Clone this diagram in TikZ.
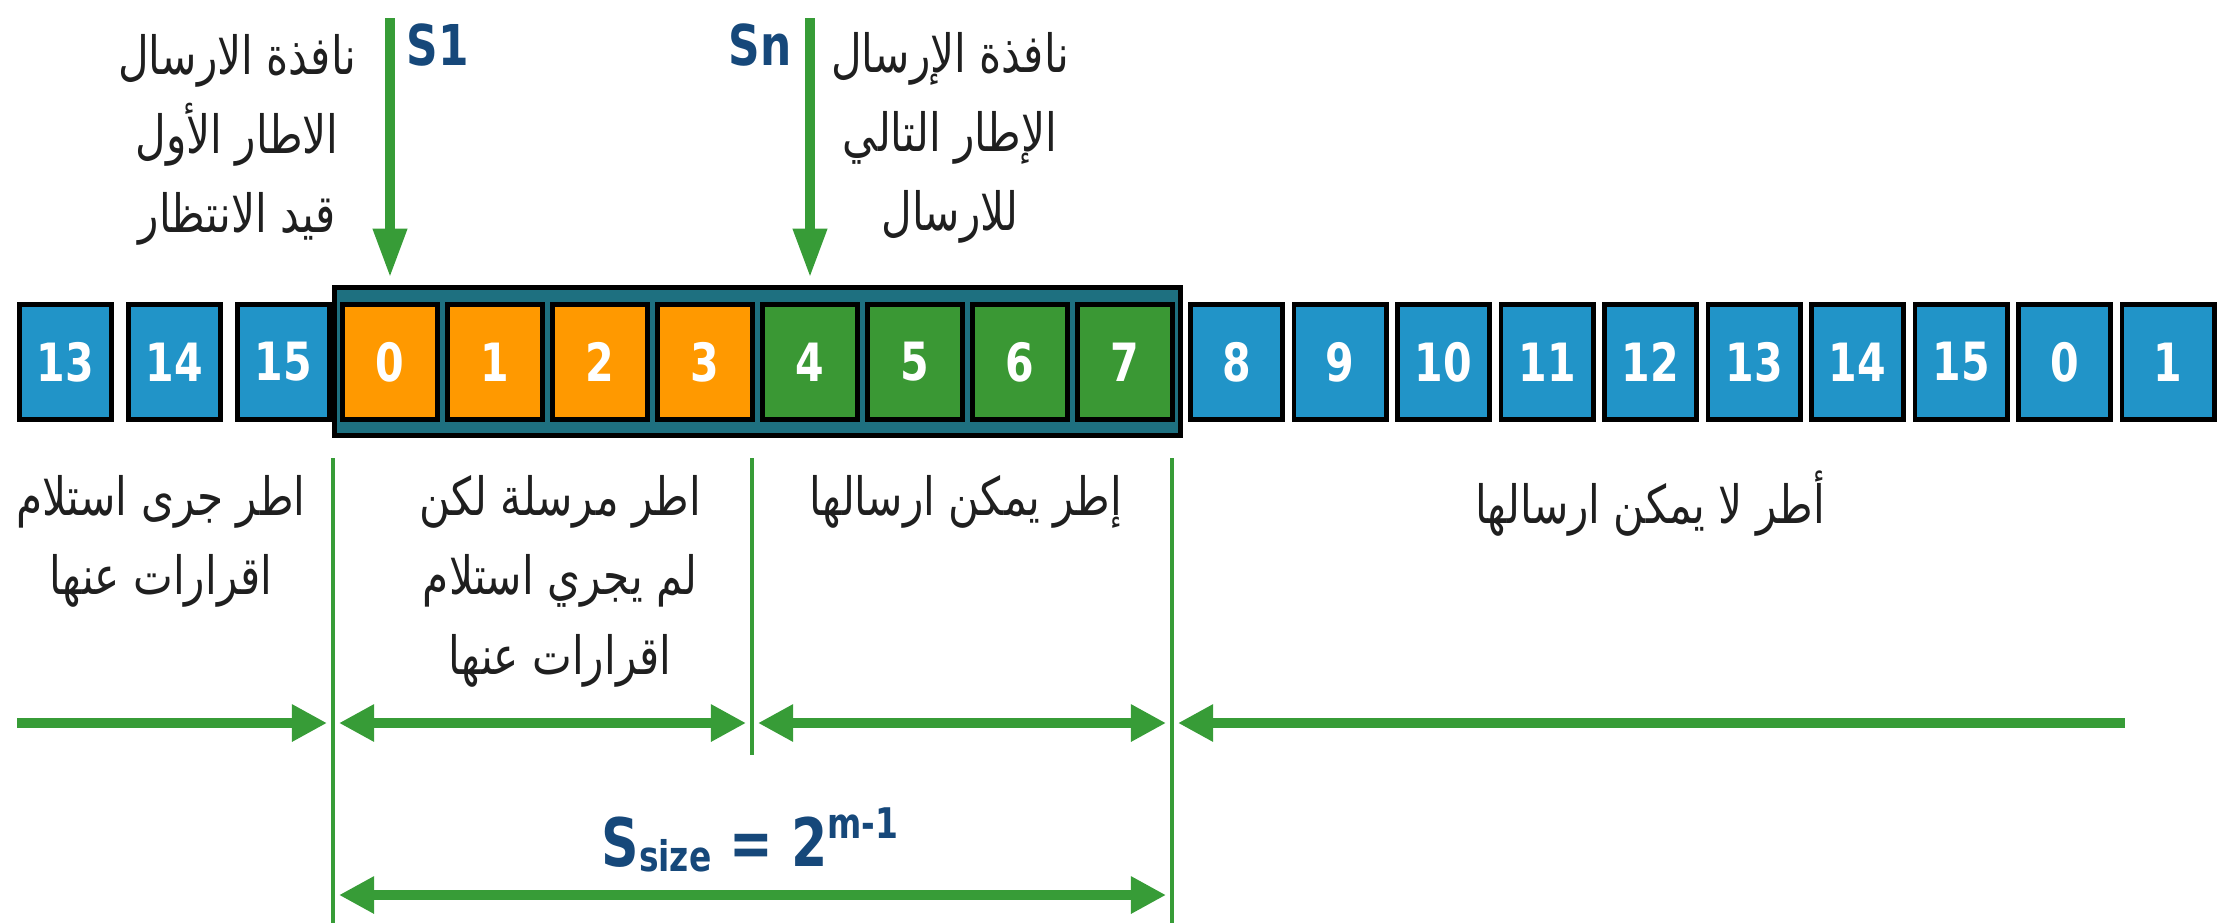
\documentclass[tikz,border=0pt]{standalone}
\usepackage{fontspec}
\setmainfont{DejaVu Sans}
\newfontfamily\arabicfont[Script=Arabic,FakeStretch=0.8]{DejaVu Sans}
\newfontfamily\numfont[FakeStretch=0.78]{DejaVu Sans}
\TeXXeTstate=1
\usetikzlibrary{arrows.meta}

\definecolor{frameblue}{RGB}{33,148,200}
\definecolor{frameorange}{RGB}{255,153,0}
\definecolor{framegreen}{RGB}{58,152,52}
\definecolor{wingreen}{RGB}{55,156,55}
\definecolor{winteal}{RGB}{30,112,128}
\definecolor{labelblue}{RGB}{22,72,122}

\newcommand{\artxt}[1]{\beginR#1\endR}

\begin{document}
\begin{tikzpicture}[x=0.01cm, y=-0.01cm,
	frame/.style={draw=black, line width=1.4pt, minimum width=0.95cm, minimum height=1.15cm, inner sep=0pt, text=white, font=\numfont\bfseries\fontsize{15}{15}\selectfont},
	sentbox/.style={frame, fill=frameorange},
	readybox/.style={frame, fill=framegreen},
	outbox/.style={frame, fill=frameblue, minimum width=0.92cm},
	window/.style={draw=black, line width=1.4pt, fill=winteal, minimum width=8.46cm, minimum height=1.48cm},
	divider/.style={wingreen, line width=1.1pt},
	span/.style={wingreen, line width=2.8pt, >={Triangle[length=10pt,width=10pt]}},
	pointer/.style={wingreen, line width=3pt, -{Triangle[length=14pt,width=9pt]}, shorten >=2pt},
	artext/.style={font=\arabicfont\fontsize{15}{22.5}\selectfont, align=center, inner sep=0pt, text=black!88},
	sname/.style={text=labelblue, inner sep=0pt, font=\numfont\bfseries\fontsize{16}{16}\selectfont}]
	\useasboundingbox (0,0) rectangle (2236,923);
	\begin{scope}
	% finestra di invio
	\node[window] (win) at (757.5,361.5) {};
	
	\node[outbox] (l13) at (65.5,362) {13};
	\node[outbox] (l14) at (174.5,362) {14};
	\node[outbox] (l15) at (283.5,362) {15};
	
	\node[sentbox] (w0) at (390,362) {0};
	\node[sentbox] (w1) at (495,362) {1};
	\node[sentbox] (w2) at (600,362) {2};
	\node[sentbox] (w3) at (705,362) {3};
	\node[readybox] (w4) at (810,362) {4};
	\node[readybox] (w5) at (915,362) {5};
	\node[readybox] (w6) at (1020,362) {6};
	\node[readybox] (w7) at (1125,362) {7};
	
	\node[outbox] (r8) at (1236.5,362) {8};
	\node[outbox] (r9) at (1340,362) {9};
	\node[outbox] (r10) at (1443.5,362) {10};
	\node[outbox] (r11) at (1547,362) {11};
	\node[outbox] (r12) at (1650.5,362) {12};
	\node[outbox] (r13) at (1754,362) {13};
	\node[outbox] (r14) at (1857.5,362) {14};
	\node[outbox] (r15) at (1961,362) {15};
	\node[outbox] (r0) at (2064.5,362) {0};
	\node[outbox] (r1) at (2168,362) {1};
	
	% puntatori S1 e Sn
	\coordinate (s1tail) at (390,18);
	\coordinate (sntail) at (810,18);
	\draw[pointer] (s1tail) -- (w0 |- win.north);
	\draw[pointer] (sntail) -- (w4 |- win.north);
	\node[sname] (s1) at (438,45) {S1};
	\node[sname] (sn) at (760,45) {Sn};
	
	\node[artext] (firstwin) at (237,140) {\artxt{نافذة الارسال}\\\artxt{الاطار الأول}\\\artxt{قيد الانتظار}};
	\node[artext] (nextwin) at (950,138) {\artxt{نافذة الإرسال}\\\artxt{الإطار التالي}\\\artxt{للارسال}};
	
	% separatori
	\coordinate (cut0top) at (333,458);
	\coordinate (cut0bot) at (333,923);
	\coordinate (cut1top) at (752,458);
	\coordinate (cut1bot) at (752,755);
	\coordinate (cut2top) at (1172,458);
	\coordinate (cut2bot) at (1172,923);
	\draw[divider] (cut0top) -- (cut0bot);
	\draw[divider] (cut1top) -- (cut1bot);
	\draw[divider] (cut2top) -- (cut2bot);
	
	\node[artext, anchor=north] (acked) at (161,475) {\artxt{اطر جرى استلام}\\\artxt{اقرارات عنها}};
	\node[artext, anchor=north] (unacked) at (560,475) {\artxt{اطر مرسلة لكن}\\\artxt{لم يجري استلام}\\\artxt{اقرارات عنها}};
	\node[artext, anchor=north] (usable) at (966,475) {\artxt{إطر يمكن ارسالها}};
	\node[artext, anchor=north] (unusable) at (1650,470) {\artxt{أطر لا يمكن ارسالها}};
	
	% frecce degli intervalli
	\coordinate (spanL) at (17,723);
	\coordinate (span0) at (333,723);
	\coordinate (span1) at (752,723);
	\coordinate (span2) at (1172,723);
	\coordinate (spanR) at (2125,723);
	\draw[span, ->, shorten >=1.7pt] (spanL) -- (span0);
	\draw[span, <->, shorten >=1.7pt, shorten <=1.7pt] (span0) -- (span1);
	\draw[span, <->, shorten >=1.7pt, shorten <=1.7pt] (span1) -- (span2);
	\draw[span, <-, shorten <=1.7pt] (span2) -- (spanR);
	
	\coordinate (size0) at (333,895);
	\coordinate (size1) at (1172,895);
	\draw[span, <->, shorten >=1.7pt, shorten <=1.7pt] (size0) -- (size1);
	\node[sname, font=\numfont\bfseries\fontsize{19}{19}\selectfont] (ssize) at (750,840) {S\raisebox{-0.15ex}{\fontsize{12}{12}\selectfont size} = 2\raisebox{0.75ex}{\fontsize{12}{12}\selectfont m-1}};
	\end{scope}
\end{tikzpicture}
\end{document}
